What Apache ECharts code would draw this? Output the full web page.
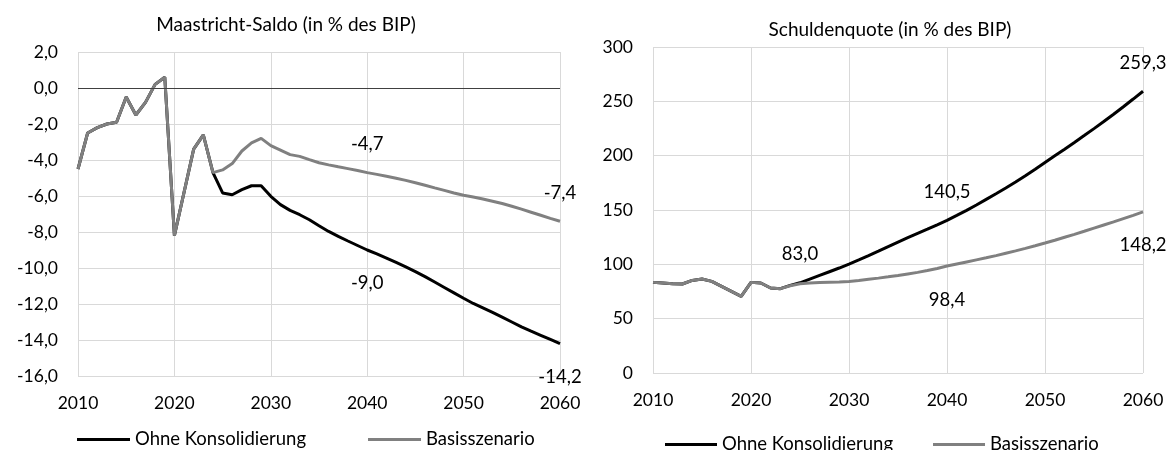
<!DOCTYPE html>
<html>
<head>
<meta charset="utf-8">
<script src="https://cdn.jsdelivr.net/npm/echarts@6/dist/echarts.min.js"></script>
<style>
  html, body { margin: 0; padding: 0; background: #fff; }
  #chart { width: 1175px; height: 450px; }
</style>
</head>
<body>
<div id="chart"></div>
<script>
// Jahre 2010 - 2060
const years = Array.from({ length: 51 }, (_, i) => 2010 + i)

// Maastricht-Saldo (in % des BIP)
const saldoOhne = [
  -4.5, -2.5, -2.2, -2.0, -1.9, -0.5, -1.5, -0.8, 0.2, 0.6,
  -8.2, -5.8, -3.4, -2.6, -4.7, -5.83, -5.93, -5.65, -5.43, -5.43,
  -6.02, -6.48, -6.8, -7.04, -7.32, -7.65, -7.97, -8.24, -8.5, -8.75,
  -9.0, -9.22, -9.45, -9.69, -9.94, -10.2, -10.48, -10.78, -11.08, -11.38,
  -11.68, -11.97, -12.22, -12.47, -12.73, -13.0, -13.27, -13.51, -13.74, -13.97,
  -14.2
]
const saldoBasis = [
  -4.5, -2.5, -2.2, -2.0, -1.9, -0.5, -1.5, -0.8, 0.2, 0.6,
  -8.2, -5.8, -3.4, -2.6, -4.7, -4.55, -4.2, -3.5, -3.05, -2.8,
  -3.2, -3.45, -3.7, -3.8, -3.98, -4.15, -4.27, -4.38, -4.48, -4.58,
  -4.7, -4.8, -4.9, -5.01, -5.13, -5.26, -5.4, -5.55, -5.69, -5.83,
  -5.96, -6.06, -6.17, -6.29, -6.42, -6.57, -6.73, -6.9, -7.07, -7.24,
  -7.4
]

// Schuldenquote (in % des BIP)
const quoteOhne = [
  83.4, 82.8, 82.2, 81.9, 85.2, 86.5, 84.3, 79.7, 75.1, 70.5,
  83.4, 82.8, 78.2, 77.6, 80.6, 83.0, 86.4, 89.8, 93.2, 96.6,
  100.2, 104.0, 108.0, 112.1, 116.3, 120.5, 124.6, 128.5, 132.4, 136.4,
  140.5, 145.0, 149.7, 154.6, 159.8, 165.0, 170.3, 175.8, 181.6, 187.6,
  193.8, 199.9, 206.0, 212.2, 218.5, 224.9, 231.4, 238.1, 245.0, 252.1,
  259.3
]
const quoteBasis = [
  83.4, 82.8, 82.2, 81.9, 85.2, 86.5, 84.3, 79.7, 75.1, 70.5,
  83.4, 82.8, 78.2, 77.6, 80.3, 82.2, 82.8, 83.3, 83.6, 83.8,
  84.3, 85.1, 86.2, 87.3, 88.5, 89.8, 91.2, 92.6, 94.3, 96.2,
  98.4, 100.3, 102.2, 104.1, 106.0, 108.0, 110.2, 112.4, 114.7, 117.1,
  119.6, 122.2, 124.9, 127.6, 130.4, 133.3, 136.2, 139.1, 142.1, 145.1,
  148.2
]

// Jahre mit Datenbeschriftung
const saldoLabelYears = [2040, 2060]
const quoteOhneLabelYears = [2025, 2040, 2060]
const quoteBasisLabelYears = [2040, 2060]

const seriesNames = ['Ohne Konsolidierung', 'Basisszenario']
const FONT = 'Lato'

const comma = (v) => v.toFixed(1).replace('.', ',')

function buildData(vals, labelYears, pos) {
  return years.map((y, i) => {
    const item = { value: [y, vals[i]] }
    if (labelYears.includes(y)) {
      item.label = { show: true, position: pos, distance: pos === 'top' ? 19 : 24 }
    }
    return item
  })
}

function lineSeries(name, color, data, idx, z) {
  return {
    name: name,
    type: 'line',
    xAxisIndex: idx,
    yAxisIndex: idx,
    data: data,
    symbol: 'circle',
    symbolSize: 0,
    showAllSymbol: true,
    z: z,
    lineStyle: { color: color, width: 3 },
    itemStyle: { color: color },
    label: {
      show: false,
      fontFamily: FONT,
      fontSize: 18.5,
      color: '#000',
      formatter: (p) => comma(p.value[1])
    },
    emphasis: { disabled: true }
  }
}

const myChart = echarts.init(document.getElementById('chart'))

const xAxisBase = {
  type: 'value',
  min: 2010,
  max: 2060,
  interval: 10,
  axisLine: { show: false },
  axisTick: { show: false },
  splitLine: { show: true, lineStyle: { color: '#d9d9d9', width: 1 } },
  axisLabel: { fontFamily: FONT, fontSize: 17.5, color: '#000', margin: 18, formatter: (v) => String(v) }
}

const option = {
  animation: false,
  title: [
    {
      text: 'Maastricht-Saldo (in % des BIP)',
      left: 281,
      top: 10,
      textAlign: 'center',
      textStyle: { fontFamily: FONT, fontSize: 19, fontWeight: 'normal', color: '#000' }
    },
    {
      text: 'Schuldenquote (in % des BIP)',
      left: 885,
      top: 15,
      textAlign: 'center',
      textStyle: { fontFamily: FONT, fontSize: 19, fontWeight: 'normal', color: '#000' }
    }
  ],
  legend: [
    {
      data: seriesNames,
      left: 72,
      top: 425,
      icon: 'rect',
      itemWidth: 53,
      itemHeight: 3,
      itemGap: 62,
      textStyle: { fontFamily: FONT, fontSize: 18.5, color: '#000' }
    },
    {
      data: seriesNames,
      left: 660,
      top: 430,
      icon: 'rect',
      itemWidth: 52,
      itemHeight: 3,
      itemGap: 40,
      textStyle: { fontFamily: FONT, fontSize: 18.5, color: '#000' }
    }
  ],
  grid: [
    { left: 78, right: 615, top: 52, bottom: 74 },
    { left: 653, right: 32, top: 47, bottom: 77 }
  ],
  xAxis: [
    Object.assign({ gridIndex: 0 }, xAxisBase),
    Object.assign({ gridIndex: 1 }, xAxisBase)
  ],
  yAxis: [
    {
      gridIndex: 0,
      type: 'value',
      min: -16,
      max: 2,
      interval: 2,
      axisLine: { show: false },
      axisTick: { show: false },
      splitLine: { lineStyle: { color: '#d9d9d9', width: 1 } },
      axisLabel: { fontFamily: FONT, fontSize: 17.5, color: '#000', margin: 20, formatter: (v) => comma(v) }
    },
    {
      gridIndex: 1,
      type: 'value',
      min: 0,
      max: 300,
      interval: 50,
      axisLine: { show: false },
      axisTick: { show: false },
      splitLine: { lineStyle: { color: '#d9d9d9', width: 1 } },
      axisLabel: { fontFamily: FONT, fontSize: 17.5, color: '#000', margin: 20 }
    }
  ],
  series: [
    Object.assign(lineSeries(seriesNames[0], '#000000', buildData(saldoOhne, saldoLabelYears, 'bottom'), 0, 2), {
      // Nulllinie
      markLine: {
        silent: true,
        symbol: 'none',
        label: { show: false },
        lineStyle: { color: '#404040', width: 1, type: 'solid' },
        data: [{ yAxis: 0 }]
      }
    }),
    lineSeries(seriesNames[1], '#808080', buildData(saldoBasis, saldoLabelYears, 'top'), 0, 3),
    lineSeries(seriesNames[0], '#000000', buildData(quoteOhne, quoteOhneLabelYears, 'top'), 1, 2),
    lineSeries(seriesNames[1], '#808080', buildData(quoteBasis, quoteBasisLabelYears, 'bottom'), 1, 3)
  ]
}

myChart.setOption(option)
</script>
</body>
</html>
